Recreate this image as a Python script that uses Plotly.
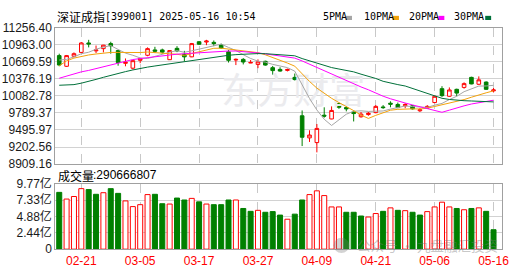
import plotly.graph_objects as go

# ---------------- data ----------------
dates = ["02-18","02-19","02-20","02-21","02-24","02-25","02-26","02-27","02-28","03-03",
         "03-04","03-05","03-06","03-07","03-10","03-11","03-12","03-13","03-14","03-17",
         "03-18","03-19","03-20","03-21","03-24","03-25","03-26","03-27","03-28","03-31",
         "04-01","04-02","04-03","04-07","04-08","04-09","04-10","04-11","04-14","04-15",
         "04-16","04-17","04-18","04-21","04-22","04-23","04-24","04-25","04-28","04-29",
         "04-30","05-06","05-07","05-08","05-09","05-12","05-13","05-14","05-15","05-16"]

open_ = [10778,10594,10767,10833,10996,10860,10898,10985,10865,10645,
         10561,10697,10784,10876,10876,10708,10903,10800,10757,11017,
         11012,11006,10963,10843,10702,10713,10650,10626,10680,10570,
         10540,10523,10403,9741,9360,9279,9751,9686,9952,9882,
         9806,9724,9762,9795,9893,9958,9936,9914,9914,9827,
         9871,9969,10208,10077,10197,10230,10403,10284,10322,10170]
high = [10811,10789,10833,11012,11050,10952,10963,11017,10876,10729,
        10697,10740,10920,10930,10898,10871,10941,10860,10996,11028,
        11050,11039,10985,10876,10729,10735,10702,10713,10691,10600,
        10577,10555,10469,9833,9491,9599,9887,9903,9958,9903,
        9833,9806,9806,9925,9925,9990,9969,9958,9925,9871,
        9925,10088,10251,10230,10208,10317,10414,10420,10333,10219]
low = [10594,10583,10746,10822,10920,10822,10833,10811,10604,10594,
       10539,10648,10767,10822,10811,10702,10838,10680,10751,10963,
       10958,10941,10898,10659,10615,10626,10648,10561,10604,10450,
       10501,10505,10349,9219,9290,9110,9708,9681,9860,9817,
       9643,9708,9741,9784,9860,9887,9871,9871,9849,9806,
       9860,9958,10066,10066,10077,10208,10284,10273,10186,10143]
close = [10616,10778,10811,10996,10979,10876,10958,10947,10659,10665,
         10691,10729,10898,10854,10838,10865,10860,10757,10985,10974,
         11028,10985,10909,10697,10713,10668,10660,10670,10615,10520,
         10512,10539,10365,9371,9409,9523,9735,9833,9887,9860,
         9779,9770,9784,9903,9882,9941,9882,9936,9860,9844,
         9903,10077,10088,10186,10132,10295,10290,10360,10197,10186]

ma5 = [10702,10713,10756,10811,10836,10888,10924,10951,10884,10821,
       10784,10738,10728,10766,10802,10837,10863,10835,10861,10888,
       10921,10946,10976,10919,10866,10794,10729,10682,10665,10627,
       10595,10571,10510,10261,10039,9841,9681,9574,9677,9768,
       9819,9826,9816,9819,9824,9856,9878,9909,9900,9893,
       9885,9924,9954,10020,10077,10156,10198,10253,10255,10266]
ma10 = [10604,10686,10735,10767,10789,10806,10822,10833,10833,10829,
        10836,10831,10840,10826,10812,10810,10801,10782,10814,10845,
        10879,10904,10906,10890,10877,10858,10838,10829,10792,10747,
        10695,10650,10596,10463,10333,10218,10126,10042,9969,9903,
        9830,9753,9695,9748,9796,9837,9852,9862,9860,9858,
        9871,9901,9932,9960,9985,10020,10061,10104,10137,10171]
ma20 = [10388,10425,10466,10498,10523,10556,10588,10621,10653,10686,
        10710,10727,10743,10759,10776,10795,10803,10811,10820,10828,
        10836,10844,10852,10857,10857,10849,10836,10824,10808,10792,
        10776,10759,10735,10686,10629,10572,10515,10458,10401,10344,
        10286,10238,10189,10132,10078,10034,9993,9961,9928,9895,
        9863,9833,9801,9838,9879,9912,9944,9969,9993,10009]
ma30 = [10267,10270,10278,10303,10332,10368,10404,10441,10474,10502,
        10531,10560,10580,10599,10617,10642,10661,10678,10694,10719,
        10735,10751,10767,10784,10795,10805,10811,10813,10811,10805,
        10797,10787,10775,10727,10686,10653,10613,10572,10547,10523,
        10498,10458,10425,10384,10335,10303,10278,10254,10213,10172,
        10124,10083,10042,10022,10009,10001,9996,9993,9985,9980]

vol_yi = [8.50,7.50,7.88,9.06,8.92,8.21,8.45,9.06,8.35,7.22,
          6.37,6.66,8.17,8.21,6.80,6.75,7.65,7.36,7.60,7.08,
          6.75,6.66,6.66,7.36,7.36,6.09,5.66,5.81,5.52,5.62,
          5.10,4.48,5.24,7.36,8.17,8.73,8.02,6.32,6.32,5.52,
          5.52,4.96,4.81,5.33,5.66,6.18,5.81,5.76,5.52,5.10,
          5.62,6.32,7.03,6.32,6.09,5.90,6.09,6.18,5.66,2.91]
vol_up = [0,1,1,1,0,0,1,0,0,1,
          1,1,1,0,0,1,0,0,1,0,
          1,0,0,0,1,0,0,1,0,0,
          0,1,0,0,1,1,1,1,1,0,
          0,0,1,1,0,1,0,1,0,0,
          1,1,1,1,0,1,0,1,0,0]

price_ticks = [11256.40, 10963.00, 10669.59, 10376.19, 10082.78, 9789.37, 9495.97, 9202.56, 8909.16]
vol_ticks = [0, 2.44, 4.88, 7.33, 9.77]
vol_tick_text = ["0", "2.44亿", "4.88亿", "7.33亿", "9.77亿"]
x_tick_labels = ["02-21", "03-05", "03-17", "03-27", "04-09", "04-21", "05-06", "05-16"]
ma_names = ["5PMA", "10PMA", "20PMA", "30PMA"]
ma_colors = ["#a6a6a6", "#f2a20c", "#ff00ff", "#00703a"]
title_cn = "深证成指"
title_rest = "[399001] 2025-05-16 10:54"
vol_label = "成交量"
vol_value = ":290666807"

RED = "#ff0000"
GREEN = "#008000"

W, H = 530, 276
def px(x): return x / W
def py(y): return 1 - y / H

idx = list(range(len(dates)))
tick_idx = [dates.index(d) for d in x_tick_labels]

fig = go.Figure()

# watermark (under the data)
fig.add_trace(go.Scatter(x=[31.8], y=[10095], mode="text", text=["东方财富"],
                         textfont=dict(family="Noto Sans CJK SC", size=36, color="#ebebee"),
                         hoverinfo="skip", xaxis="x", yaxis="y", cliponaxis=False))

fig.add_trace(go.Candlestick(
    x=idx, open=open_, high=high, low=low, close=close,
    increasing=dict(line=dict(color=RED, width=1), fillcolor="#ffffff"),
    decreasing=dict(line=dict(color=GREEN, width=1), fillcolor=GREEN),
    whiskerwidth=0, hoverinfo="skip", xaxis="x", yaxis="y"))

for vals, col in zip([ma5, ma10, ma20, ma30], ma_colors):
    fig.add_trace(go.Scatter(x=idx, y=vals, mode="lines", line=dict(color=col, width=1),
                             hoverinfo="skip", xaxis="x", yaxis="y"))

fig.add_trace(go.Bar(
    x=idx, y=vol_yi, width=0.68,
    marker=dict(color=["#ffffff" if u else GREEN for u in vol_up],
                line=dict(color=[RED if u else GREEN for u in vol_up], width=1)),
    hoverinfo="skip", xaxis="x2", yaxis="y2"))

axis_common = dict(zeroline=False, showline=True, mirror=True, linecolor="#a0a0a0", linewidth=1)
fig.update_layout(
    width=W, height=H, margin=dict(l=0, r=0, t=0, b=0),
    paper_bgcolor="white", plot_bgcolor="white", showlegend=False,
    xaxis=dict(domain=[px(56), px(509)], range=[-0.54, 60.19], tickvals=tick_idx,
               showticklabels=False, showgrid=True, gridcolor="#c8c8c8", griddash="dash",
               rangeslider=dict(visible=False), anchor="y", ticks="", **axis_common),
    yaxis=dict(domain=[py(165), py(21)], range=[price_ticks[-1], price_ticks[0]],
               tickvals=price_ticks, ticktext=[f"{v:.2f}" for v in price_ticks],
               showgrid=True, gridcolor="#d2d2d2", ticks="", anchor="x",
               tickfont=dict(family="Liberation Sans", size=12, color="#1a1a1a"), **axis_common),
    xaxis2=dict(domain=[px(56), px(509)], range=[-0.54, 60.19], tickvals=tick_idx,
                ticktext=x_tick_labels, showgrid=True, gridcolor="#c8c8c8", griddash="dash",
                anchor="y2", ticks="",
                tickfont=dict(family="Liberation Sans", size=12, color=RED), **axis_common),
    yaxis2=dict(domain=[py(255), py(186)], range=[0, vol_ticks[-1]],
                tickvals=vol_ticks, ticktext=vol_tick_text, showgrid=True, gridcolor="#d2d2d2",
                ticks="", anchor="x2",
                tickfont=dict(family="Liberation Sans, Noto Sans CJK SC", size=12, color="#1a1a1a"),
                **axis_common),
)

ann = []
ann.append(dict(x=px(56), y=py(9), text=title_cn, xanchor="left", yanchor="middle",
                font=dict(family="Noto Sans CJK SC", size=12, color="#000")))
ann.append(dict(x=px(104), y=py(9), text=title_rest, xanchor="left", yanchor="middle",
                font=dict(family="DejaVu Sans Mono", size=10, color="#000")))
ann.append(dict(x=px(57), y=py(177), text=vol_label, xanchor="left", yanchor="middle",
                font=dict(family="Noto Sans CJK SC", size=12, color="#000")))
ann.append(dict(x=px(92), y=py(177), text=vol_value, xanchor="left", yanchor="middle",
                font=dict(family="Liberation Sans", size=12, color="#000")))

legend_text_x = [325, 366.7, 412.7, 458.3]
legend_box_x = [350.7, 398.3, 444.3, 491.7]
shapes = []
for name, col, tx, bx in zip(ma_names, ma_colors, legend_text_x, legend_box_x):
    ann.append(dict(x=px(tx), y=py(8.5), text=name, xanchor="left", yanchor="middle",
                    font=dict(family="DejaVu Sans Mono", size=10, color="#000")))
    shapes.append(dict(type="rect", xref="paper", yref="paper", x0=px(bx), x1=px(bx + 6),
                       y0=py(12.7), y1=py(8.3), fillcolor=col, line=dict(width=0)))

# WeChat watermark over the volume area
ann.append(dict(x=px(360), y=py(251), text="公众号 · 九盘融汇投资", xanchor="left", yanchor="middle",
                font=dict(family="Noto Sans CJK SC", size=13.5, color="rgba(120,120,120,0.42)")))
shapes.append(dict(type="circle", xref="paper", yref="paper", x0=px(338), x1=px(354),
                   y0=py(259), y1=py(243), fillcolor="rgba(120,120,120,0.33)", line=dict(width=0)))

for a in ann:
    a.update(xref="paper", yref="paper", showarrow=False)
fig.update_layout(annotations=ann, shapes=shapes)

fig.write_html("out.html")
